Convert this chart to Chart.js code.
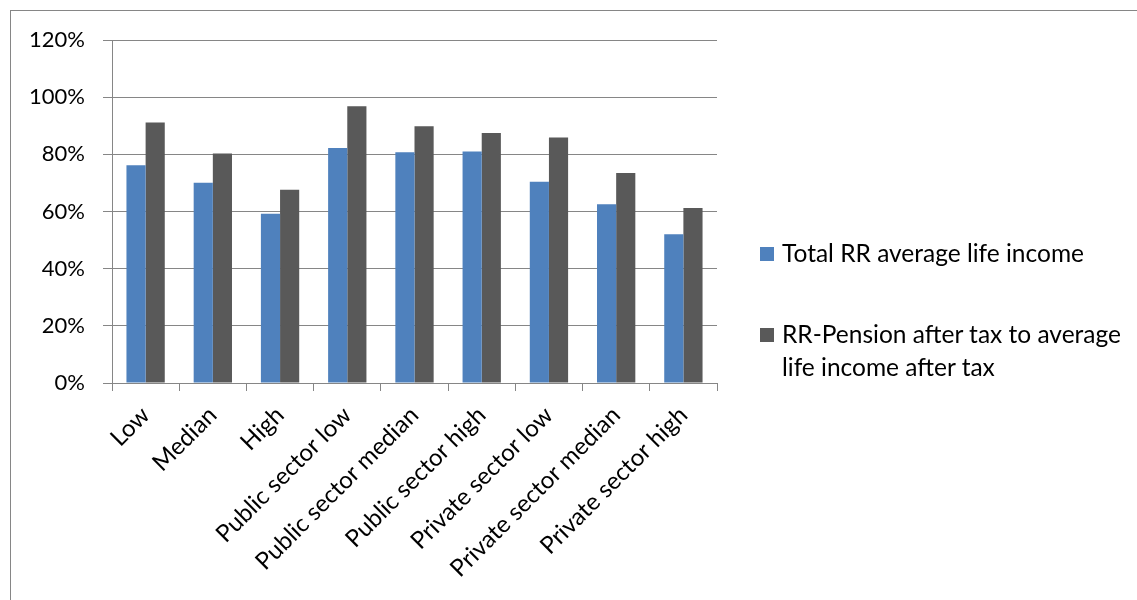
<!DOCTYPE html>
<html lang="en">
<head>
  <meta charset="UTF-8">
  <title>Replacement rates</title>
  <script src="https://cdn.jsdelivr.net/npm/chart.js"></script>
  <style>
    body { margin: 0; background: #fff; font-family: Lato, sans-serif; }
    #wrap { position: relative; width: 1137px; height: 600px; overflow: hidden; }
    #frame { position: absolute; left: 10px; top: 10px; width: 1200px; height: 700px; border: 1px solid #868686; box-sizing: border-box; }
    #legend { position: absolute; left: 760px; top: 236px; font-size: 24.5px; color: #000; line-height: 33px; }
    .item { display: flex; align-items: flex-start; margin-bottom: 48px; }
    .box { width: 14px; height: 14px; margin: 11px 8px 0 0; flex: none; }
  </style>
</head>
<body>
  <div id="wrap">
    <div id="frame"></div>
    <canvas id="grafico" width="1137" height="600"></canvas>
    <div id="legend"></div>
  </div>

  <script>
    const categorias = ['Low', 'Median', 'High', 'Public sector low', 'Public sector median',
      'Public sector high', 'Private sector low', 'Private sector median', 'Private sector high'];
    const totalRR = [76.2, 70.1, 59.2, 82.2, 80.7, 81.0, 70.4, 62.5, 52.0];
    const rrPensao = [91.1, 80.3, 67.6, 96.8, 89.8, 87.5, 85.9, 73.5, 61.2];
    const nomes = ['Total RR average life income', 'RR-Pension after tax to average life income after tax'];
    const cores = ['#4F81BD', '#595959'];
    const yTicks = [0, 20, 40, 60, 80, 100, 120];

    const ctx = document.getElementById('grafico').getContext('2d');

    new Chart(ctx, {
      type: 'bar',
      data: {
        labels: categorias,
        datasets: [
          { label: nomes[0], data: totalRR, backgroundColor: cores[0] },
          { label: nomes[1], data: rrPensao, backgroundColor: cores[1] }
        ]
      },
      options: {
        responsive: false,
        animation: false,
        categoryPercentage: 0.57,
        barPercentage: 1,
        layout: { padding: { left: 0, top: 40, right: 420, bottom: 0 } },
        plugins: { legend: { display: false }, tooltip: { enabled: false } },
        scales: {
          x: {
            afterFit: s => { s.height = 217; },
            grid: { drawOnChartArea: false, color: '#868686', tickLength: 8 },
            border: { color: '#868686' },
            ticks: { color: '#000', font: { family: 'Lato', size: 24 }, minRotation: 45, maxRotation: 45, padding: 10 }
          },
          y: {
            min: 0, max: 120,
            afterFit: s => { s.width = 112; },
            afterBuildTicks: s => { s.ticks = yTicks.map(v => ({ value: v })); },
            grid: { color: '#868686', tickLength: 9 },
            border: { color: '#868686' },
            ticks: { color: '#000', font: { family: 'Lato', size: 22 }, padding: 18, callback: v => v + '%' }
          }
        }
      }
    });

    const legenda = document.getElementById('legend');
    nomes.forEach((n, i) => {
      const div = document.createElement('div');
      div.className = 'item';
      div.innerHTML = `<span class="box" style="background:${cores[i]}"></span><span style="width:352px">${n}</span>`;
      legenda.appendChild(div);
    });
  </script>
</body>
</html>
